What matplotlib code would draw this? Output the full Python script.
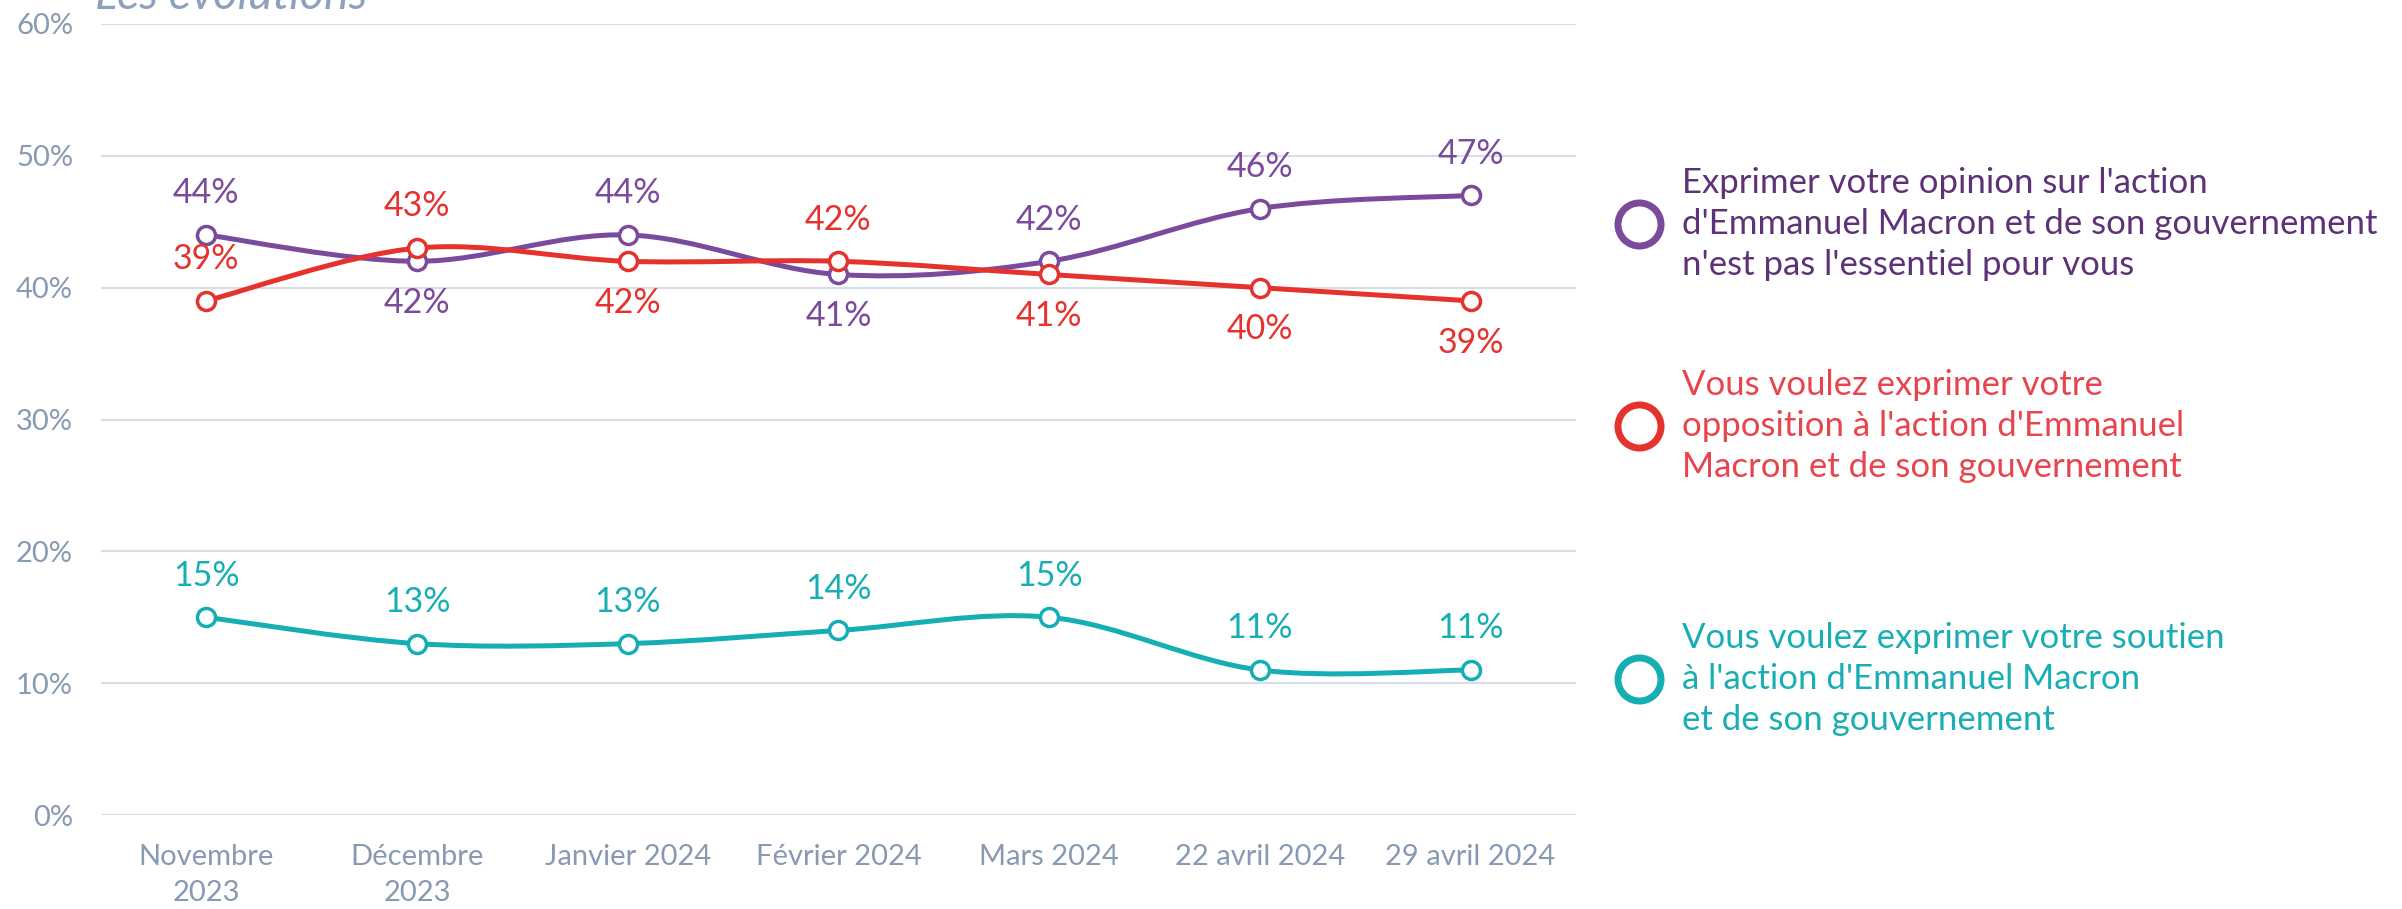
import numpy as np
import matplotlib.pyplot as plt
from matplotlib.path import Path
from matplotlib.patches import PathPatch
from matplotlib.lines import Line2D

plt.rcParams['font.family'] = ['Lato', 'DejaVu Sans']

months = ['Novembre\n2023', 'Décembre\n2023', 'Janvier 2024', 'Février 2024',
          'Mars 2024', '22 avril 2024', '29 avril 2024']
pas_essentiel = [44, 42, 44, 41, 42, 46, 47]
opposition = [39, 43, 42, 42, 41, 40, 39]
soutien = [15, 13, 13, 14, 15, 11, 11]

# label placement: 1 above the point, -1 below
pos_pas_essentiel = [1, -1, 1, -1, 1, 1, 1]
pos_opposition = [1, 1, -1, 1, -1, -1, -1]
pos_soutien = [1, 1, 1, 1, 1, 1, 1]

legend_labels = [
    "Exprimer votre opinion sur l'action\nd'Emmanuel Macron et de son gouvernement\nn'est pas l'essentiel pour vous",
    "Vous voulez exprimer votre\nopposition à l'action d'Emmanuel\nMacron et de son gouvernement",
    "Vous voulez exprimer votre soutien\nà l'action d'Emmanuel Macron\net de son gouvernement",
]

PURPLE = '#7A4A9C'
RED = '#E5322D'
TEAL = '#15AEB5'
GRID = '#D8DDE7'
TICK = '#8799B3'


def smooth_path(xs, ys):
    # cubic bezier through the points (catmull-rom style control points)
    pts = np.column_stack([xs, ys]).astype(float)
    n = len(pts)
    verts = [pts[0]]
    codes = [Path.MOVETO]
    for i in range(n - 1):
        p0 = pts[i - 1] if i > 0 else pts[i]
        p1 = pts[i]
        p2 = pts[i + 1]
        p3 = pts[i + 2] if i + 2 < n else pts[i + 1]
        verts += [p1 + (p2 - p0) / 6, p2 - (p3 - p1) / 6, p2]
        codes += [Path.CURVE4] * 3
    return Path(verts, codes)


fig = plt.figure(figsize=(24.02, 9.09), dpi=100)
ax = fig.add_axes([0.042, 0.1034, 0.6141, 0.8702])

x = np.arange(len(months))
series = [(pas_essentiel, pos_pas_essentiel, PURPLE),
          (opposition, pos_opposition, RED),
          (soutien, pos_soutien, TEAL)]

for vals, where, col in series:
    ax.add_patch(PathPatch(smooth_path(x, vals), fill=False, edgecolor=col,
                           lw=3.6, capstyle='round', zorder=3))
for vals, where, col in series:
    ax.plot(x, vals, 'o', ms=13, mfc='white', mec=col, mew=2.5, zorder=4)
    for xi, v, w in zip(x, vals, where):
        ax.annotate(f'{v}%', (xi, v), xytext=(0, 30 * w), textcoords='offset points',
                    ha='center', va='center', fontsize=24.5, color=col, zorder=5)

ax.set_xlim(-0.5, 6.5)
ax.set_ylim(0, 60)
ax.set_yticks(range(0, 61, 10))
ax.set_yticklabels([f'{t}%' for t in range(0, 61, 10)])
ax.set_xticks(x)
ax.set_xticklabels(months, linespacing=1.45)
ax.tick_params(axis='both', length=0, labelsize=21, labelcolor=TICK)
ax.tick_params(axis='y', pad=20)
ax.tick_params(axis='x', pad=21)
ax.grid(axis='y', color=GRID, lw=1.6)
ax.set_axisbelow(True)
for s in ax.spines.values():
    s.set_visible(False)

fig.text(0.0395, 1 - 9 / 909, 'Les évolutions', fontsize=33.5, style='italic',
         color='#8EA1BC', va='baseline', ha='left')

# legend
leg_y = [1 - 224 / 909, 1 - 426 / 909, 1 - 679 / 909]
ring_cols = [PURPLE, RED, TEAL]
text_cols = ['#5E3277', '#E8444D', '#18AEB3']
for yy, txt, rc, tc in zip(leg_y, legend_labels, ring_cols, text_cols):
    fig.add_artist(Line2D([1639 / 2402], [yy], transform=fig.transFigure, marker='o',
                          ms=31, mfc='white', mec=rc, mew=5, linestyle='none'))
    fig.text(1682 / 2402, yy, txt, fontsize=25, color=tc, va='center', ha='left',
             linespacing=1.36)

fig.savefig('out.png', dpi=100)
